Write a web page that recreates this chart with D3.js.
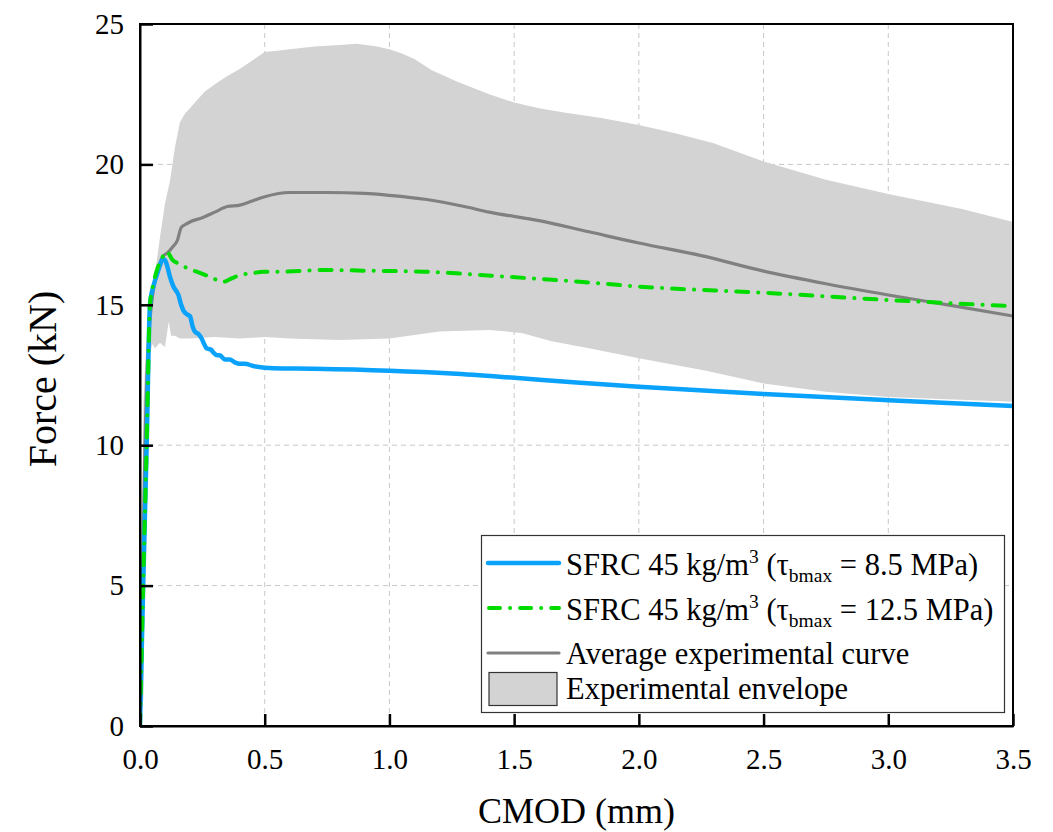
<!DOCTYPE html>
<html>
<head>
<meta charset="utf-8">
<script src="https://cdn.jsdelivr.net/npm/d3@7"></script>
<style>
  html, body { margin: 0; padding: 0; background: #fff; }
  svg { display: block; font-family: "Liberation Serif", "DejaVu Serif", serif; }
</style>
</head>
<body>
<svg id="chart" width="1053" height="832"></svg>
<script>
// Axis ticks
const xTicks = [0.0, 0.5, 1.0, 1.5, 2.0, 2.5, 3.0, 3.5];
const yTicks = [0, 5, 10, 15, 20, 25];

// Experimental envelope: upper bound
const envUpperCmod  = [0, 0.005, 0.010, 0.014, 0.020, 0.030, 0.040, 0.060, 0.080, 0.100, 0.120, 0.140, 0.160, 0.180, 0.200, 0.230, 0.260, 0.300, 0.350, 0.400, 0.450, 0.500, 0.550, 0.600, 0.700, 0.800, 0.870, 0.950, 1.000, 1.050, 1.100, 1.170, 1.270, 1.400, 1.500, 1.600, 1.700, 1.850, 2.000, 2.150, 2.300, 2.500, 2.750, 3.000, 3.300, 3.500];
const envUpperForce = [0, 3.0, 8.0, 11.5, 12.8, 13.9, 14.6, 16.1, 17.4, 18.6, 19.4, 20.6, 21.5, 21.8, 22.0, 22.3, 22.6, 22.85, 23.15, 23.4, 23.7, 24.0, 24.05, 24.1, 24.2, 24.25, 24.3, 24.2, 24.1, 23.95, 23.75, 23.35, 22.95, 22.5, 22.2, 22.0, 21.85, 21.65, 21.4, 21.1, 20.75, 20.1, 19.45, 18.95, 18.4, 17.95];

// Experimental envelope: lower bound
const envLowerCmod  = [0, 0.014, 0.017, 0.020, 0.025, 0.030, 0.040, 0.050, 0.060, 0.080, 0.100, 0.115, 0.125, 0.140, 0.160, 0.200, 0.300, 0.400, 0.500, 0.600, 0.800, 1.000, 1.200, 1.400, 1.530, 1.650, 1.800, 2.000, 2.270, 2.500, 2.750, 3.000, 3.500];
const envLowerForce = [0, 1.0, 6.0, 10.5, 12.6, 13.2, 13.3, 13.6, 13.45, 13.65, 13.5, 14.4, 13.9, 13.9, 13.8, 13.8, 13.85, 13.8, 13.85, 13.8, 13.75, 13.8, 14.05, 14.1, 14.0, 13.7, 13.45, 13.1, 12.65, 12.2, 11.9, 11.72, 11.55];

// Average experimental curve
const avgCmod  = [0, 0.010, 0.020, 0.030, 0.050, 0.070, 0.090, 0.110, 0.130, 0.150, 0.165, 0.180, 0.200, 0.250, 0.300, 0.350, 0.400, 0.450, 0.500, 0.600, 0.750, 0.900, 1.000, 1.150, 1.300, 1.400, 1.600, 1.800, 2.000, 2.250, 2.500, 2.750, 3.000, 3.250, 3.500];
const avgForce = [0, 5.0, 10.0, 13.0, 15.3, 16.2, 16.7, 16.85, 17.05, 17.3, 17.75, 17.85, 17.95, 18.1, 18.3, 18.5, 18.55, 18.7, 18.85, 19.0, 19.0, 18.97, 18.9, 18.75, 18.5, 18.3, 18.0, 17.6, 17.2, 16.75, 16.2, 15.75, 15.35, 14.98, 14.6];

// Model: SFRC 45 kg/m3, tau_bmax = 8.5 MPa
const lowTauCmod  = [0, 0.013, 0.027, 0.040, 0.055, 0.067, 0.080, 0.092, 0.100, 0.110, 0.120, 0.134, 0.145, 0.154, 0.165, 0.174, 0.190, 0.200, 0.212, 0.220, 0.235, 0.247, 0.260, 0.267, 0.285, 0.294, 0.310, 0.320, 0.340, 0.360, 0.380, 0.400, 0.420, 0.454, 0.500, 0.534, 0.700, 1.000, 1.250, 1.470, 1.750, 2.000, 2.500, 3.000, 3.500];
const lowTauForce = [0, 5.1, 10.1, 15.0, 15.7, 16.05, 16.4, 16.62, 16.6, 16.35, 16.0, 15.65, 15.5, 15.35, 15.0, 14.8, 14.65, 14.6, 14.2, 14.05, 13.95, 13.8, 13.55, 13.45, 13.4, 13.3, 13.2, 13.2, 13.05, 13.05, 12.95, 12.9, 12.9, 12.82, 12.76, 12.74, 12.72, 12.65, 12.55, 12.42, 12.23, 12.08, 11.82, 11.6, 11.4];

// Model: SFRC 45 kg/m3, tau_bmax = 12.5 MPa
const highTauCmod  = [0, 0.013, 0.027, 0.040, 0.055, 0.070, 0.085, 0.100, 0.107, 0.130, 0.160, 0.190, 0.227, 0.280, 0.334, 0.370, 0.400, 0.450, 0.494, 0.575, 0.735, 0.935, 1.136, 1.336, 1.470, 1.764, 2.000, 2.500, 3.000, 3.500];
const highTauForce = [0, 5.1, 10.1, 15.0, 15.8, 16.3, 16.6, 16.85, 16.9, 16.6, 16.45, 16.3, 16.18, 16.0, 15.82, 15.95, 16.06, 16.12, 16.18, 16.18, 16.24, 16.21, 16.18, 16.08, 16.0, 15.82, 15.65, 15.43, 15.17, 14.95];

const legendLabels = [
  "Average experimental curve",
  "Experimental envelope"
];

const colors = {
  lowTau: "#0aa2fb",
  highTau: "#00dc00",
  avg: "#808080",
  env: "#d3d3d3"
};

const svg = d3.select("#chart");
const margin = { left: 140, top: 24, right: 40, bottom: 106 };
const W = 1053 - margin.left - margin.right;
const H = 832 - margin.top - margin.bottom;

const x = d3.scaleLinear().domain([0, 3.5]).range([0, W]);
const y = d3.scaleLinear().domain([0, 25]).range([H, 0]);

const g = svg.append("g").attr("transform", `translate(${margin.left},${margin.top})`);

const defs = svg.append("defs");
defs.append("clipPath").attr("id", "plot-clip")
  .append("rect").attr("x", 0).attr("y", 0).attr("width", W).attr("height", H);

// Dashed grid
const grid = g.append("g").attr("class", "grid");
grid.selectAll("line.gx").data(xTicks.filter(t => t > 0 && t < 3.5)).enter()
  .append("line")
  .attr("x1", d => x(d)).attr("x2", d => x(d))
  .attr("y1", 0).attr("y2", H)
  .attr("stroke", "#c8c8c8").attr("stroke-width", 1).attr("stroke-dasharray", "5,4");
grid.selectAll("line.gy").data(yTicks.filter(t => t > 0 && t < 25)).enter()
  .append("line")
  .attr("x1", 0).attr("x2", W)
  .attr("y1", d => y(d)).attr("y2", d => y(d))
  .attr("stroke", "#c8c8c8").attr("stroke-width", 1).attr("stroke-dasharray", "5,4");

const zipPts = (xs, ys) => xs.map((v, i) => [v, ys[i]]);
const plot = g.append("g").attr("clip-path", "url(#plot-clip)");

// Envelope polygon: upper bound out, lower bound back
const envPts = zipPts(envUpperCmod, envUpperForce)
  .concat(zipPts(envLowerCmod, envLowerForce).reverse());
plot.append("path")
  .attr("d", d3.line().x(d => x(d[0])).y(d => y(d[1]))(envPts) + "Z")
  .attr("fill", colors.env).attr("stroke", "none");

const line = d3.line().x(d => x(d[0])).y(d => y(d[1])).curve(d3.curveMonotoneX);

plot.append("path")
  .attr("d", line(zipPts(avgCmod, avgForce)))
  .attr("fill", "none").attr("stroke", colors.avg).attr("stroke-width", 3.2);

plot.append("path")
  .attr("d", line(zipPts(lowTauCmod, lowTauForce)))
  .attr("fill", "none").attr("stroke", colors.lowTau).attr("stroke-width", 4.5)
  .attr("stroke-linejoin", "round");

plot.append("path")
  .attr("d", line(zipPts(highTauCmod, highTauForce)))
  .attr("fill", "none").attr("stroke", colors.highTau).attr("stroke-width", 4)
  .attr("stroke-linecap", "round").attr("stroke-dasharray", "12,10,0.1,10");

// Frame
g.append("rect").attr("x", 0).attr("y", 0).attr("width", W).attr("height", H)
  .attr("fill", "none").attr("stroke", "#000").attr("stroke-width", 2);

// Axes with inward ticks
const xAxis = d3.axisBottom(x).tickValues(xTicks).tickFormat(d3.format(".1f"))
  .tickSizeInner(-12).tickSizeOuter(0).tickPadding(22);
const yAxis = d3.axisLeft(y).tickValues(yTicks).tickFormat(d3.format("d"))
  .tickSizeInner(-13).tickSizeOuter(0).tickPadding(16);

const gx = g.append("g").attr("transform", `translate(0,${H})`).call(xAxis);
const gy = g.append("g").call(yAxis);
[gx, gy].forEach(ax => {
  ax.select(".domain").attr("stroke", "#000").attr("stroke-width", 2);
  ax.selectAll(".tick line").attr("stroke", "#000").attr("stroke-width", 2.5);
  ax.selectAll(".tick text")
    .attr("font-family", "Liberation Serif, serif")
    .attr("font-size", 29).attr("fill", "#000");
});
gx.selectAll(".tick text").attr("dy", "0.71em");

// Axis titles
svg.append("text")
  .attr("x", margin.left + W / 2).attr("y", 823)
  .attr("text-anchor", "middle").attr("font-size", 36).attr("fill", "#000")
  .text("CMOD (mm)");
svg.append("text")
  .attr("transform", "translate(56,379) rotate(-90)")
  .attr("text-anchor", "middle").attr("font-size", 40).attr("fill", "#000")
  .text("Force (kN)");

// Legend
const lg = svg.append("g");
lg.append("rect").attr("x", 481.5).attr("y", 535.5).attr("width", 523).attr("height", 177)
  .attr("fill", "#fff").attr("stroke", "#333").attr("stroke-width", 1.2);

const textX = 566;
const fs = 30.5;

function sfrcLabel(yb, tau) {
  const t = lg.append("text").attr("x", textX).attr("y", yb).attr("font-size", fs).attr("fill", "#000");
  t.append("tspan").text("SFRC 45 kg/m");
  t.append("tspan").attr("font-size", 19.5).attr("dy", -12).text("3");
  t.append("tspan").attr("dy", 12).text(" (τ");
  t.append("tspan").attr("font-size", 19.5).attr("dy", 7).text("bmax");
  t.append("tspan").attr("dy", -7).text(" = " + tau + " MPa)");
}

lg.append("line").attr("x1", 488).attr("x2", 559).attr("y1", 563).attr("y2", 563)
  .attr("stroke", colors.lowTau).attr("stroke-width", 4.5).attr("stroke-linecap", "round");
sfrcLabel(575, "8.5");

lg.append("line").attr("x1", 489).attr("x2", 559).attr("y1", 608).attr("y2", 608)
  .attr("stroke", colors.highTau).attr("stroke-width", 4).attr("stroke-linecap", "round")
  .attr("stroke-dasharray", "11,10,0.1,10");
sfrcLabel(620, "12.5");

lg.append("line").attr("x1", 488).attr("x2", 559).attr("y1", 653).attr("y2", 653)
  .attr("stroke", colors.avg).attr("stroke-width", 3.2).attr("stroke-linecap", "round");
lg.append("text").attr("x", textX).attr("y", 664).attr("font-size", fs).attr("fill", "#000")
  .text(legendLabels[0]);

lg.append("rect").attr("x", 489).attr("y", 672.5).attr("width", 68).attr("height", 33)
  .attr("fill", colors.env).attr("stroke", "#333").attr("stroke-width", 1.2);
lg.append("text").attr("x", textX).attr("y", 699).attr("font-size", fs).attr("fill", "#000")
  .text(legendLabels[1]);
</script>
</body>
</html>
